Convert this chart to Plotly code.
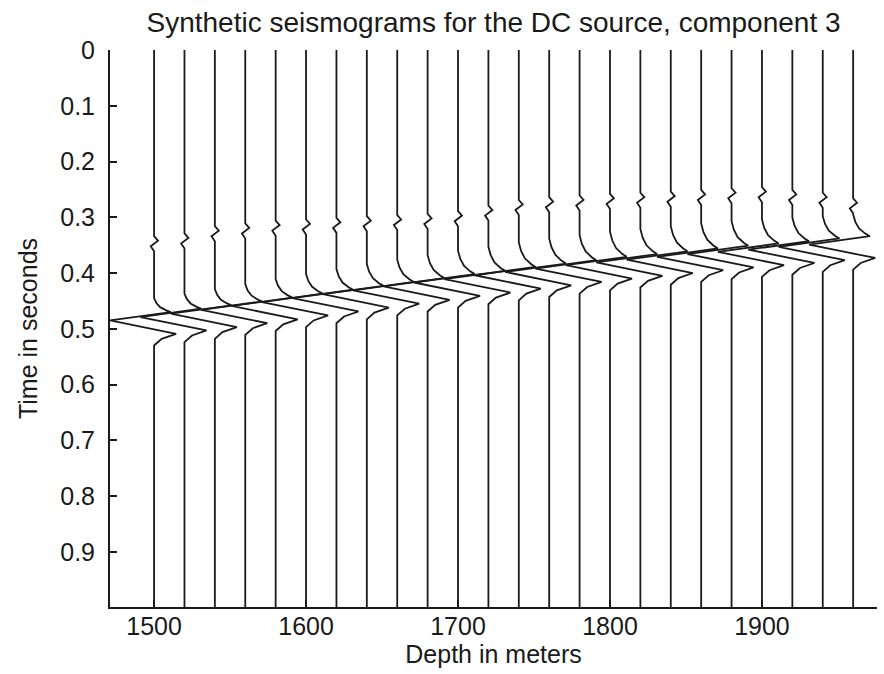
import plotly.graph_objects as go

# ---- data ----
depths = [1500, 1520, 1540, 1560, 1580, 1600, 1620, 1640, 1660, 1680, 1700, 1720,
          1740, 1760, 1780, 1800, 1820, 1840, 1860, 1880, 1900, 1920, 1940, 1960]

# centre time of the small precursor wiggle on each trace (s)
wiggle_time = [0.348, 0.343, 0.330, 0.325, 0.320, 0.318, 0.315, 0.312, 0.310, 0.308, 0.303, 0.293,
               0.283, 0.278, 0.275, 0.272, 0.270, 0.268, 0.265, 0.262, 0.260, 0.265, 0.270, 0.280]

# time of the positive shoulder just before the main negative swing (s)
onset_time = [0.470, 0.464, 0.458, 0.451, 0.444, 0.437, 0.430, 0.423, 0.416, 0.409, 0.402, 0.396,
              0.389, 0.383, 0.377, 0.371, 0.366, 0.361, 0.356, 0.351, 0.347, 0.343, 0.338, 0.334]

# duration of the slow rightward drift before the shoulder (s)
drift_len = [0.025, 0.027, 0.029, 0.031, 0.033, 0.035, 0.037, 0.039, 0.040, 0.041, 0.042, 0.043,
             0.044, 0.045, 0.045, 0.045, 0.045, 0.045, 0.045, 0.044, 0.043, 0.042, 0.040, 0.039]

# waveform key points (offsets in time, amplitudes in metres of trace deflection)
wiggle_dt = [-0.014, -0.006, 0.004, 0.013]
wiggle_amp = [0.0, 2.6, -2.2, 0.0]
drift_frac = [-1.0, -0.65, -0.35, -0.12, 0.0]
drift_amp = [0.0, 1.5, 4.0, 8.0, 11.0]
pulse_dt = [0.015, 0.039, 0.048, 0.060]
pulse_amp = [-29.0, 14.5, 5.0, 0.0]

t_first, t_last = 0.0, 0.999

y_tick_vals = [0, 0.1, 0.2, 0.3, 0.4, 0.5, 0.6, 0.7, 0.8, 0.9]
y_tick_text = ["0", "0.1", "0.2", "0.3", "0.4", "0.5", "0.6", "0.7", "0.8", "0.9"]
x_tick_vals = [1500, 1600, 1700, 1800, 1900]
x_tick_text = ["1500", "1600", "1700", "1800", "1900"]

# ---- build figure ----
fig = go.Figure()
for i, d in enumerate(depths):
    ts = [t_first]
    xs = [d]
    for dt, a in zip(wiggle_dt, wiggle_amp):
        ts.append(wiggle_time[i] + dt)
        xs.append(d + a)
    for fr, a in zip(drift_frac, drift_amp):
        ts.append(onset_time[i] + fr * drift_len[i])
        xs.append(d + a)
    for dt, a in zip(pulse_dt, pulse_amp):
        ts.append(onset_time[i] + dt)
        xs.append(d + a)
    ts.append(t_last)
    xs.append(d)
    fig.add_trace(go.Scatter(x=xs, y=ts, mode="lines",
                             line=dict(color="#1a1a1a", width=1.8),
                             showlegend=False, hoverinfo="skip"))

font_family = "Liberation Sans, Arial, sans-serif"

fig.update_layout(
    width=884, height=674,
    margin=dict(l=110, r=7, t=50, b=67),
    paper_bgcolor="white", plot_bgcolor="white",
    font=dict(family=font_family, size=25, color="#1a1a1a"),
    title=dict(text="Synthetic seismograms for the DC source, component 3",
               x=0.5, xref="paper", xanchor="center",
               y=1 - 22 / 674, yref="container", yanchor="middle",
               font=dict(size=28, family=font_family, color="#1a1a1a")),
    showlegend=False,
)

fig.update_xaxes(
    range=[1471, 1975.7], tickvals=x_tick_vals, ticktext=x_tick_text,
    showgrid=False, zeroline=False, showline=True, linecolor="#1a1a1a", linewidth=2,
    ticks="inside", ticklen=7, tickwidth=1.5, tickcolor="#1a1a1a",
    mirror=False, ticklabelstandoff=-4,
    title=dict(text="Depth in meters", standoff=6, font=dict(size=25)),
    tickfont=dict(size=25),
)
fig.update_yaxes(
    range=[t_last, t_first], tickvals=y_tick_vals, ticktext=y_tick_text,
    showgrid=False, zeroline=False, showline=True, linecolor="#1a1a1a", linewidth=2,
    ticks="inside", ticklen=7, tickwidth=1.5, tickcolor="#1a1a1a",
    mirror=False, ticklabelstandoff=8,
    title=dict(text="Time in seconds", standoff=15, font=dict(size=25)),
    tickfont=dict(size=25),
)

fig.write_html("out.html")
